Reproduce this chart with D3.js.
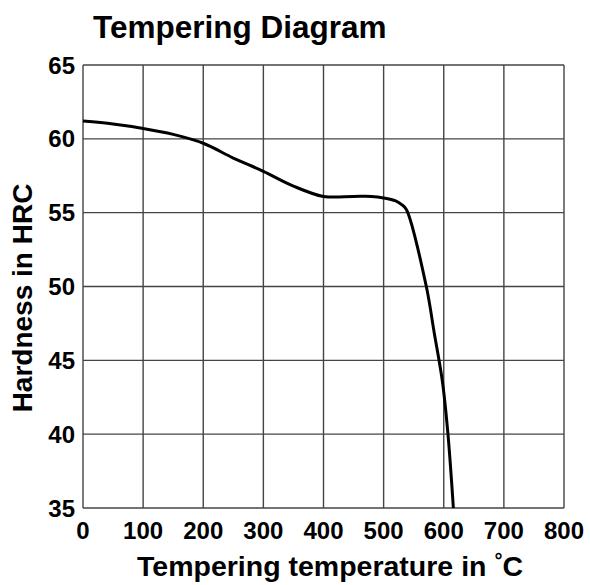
<!DOCTYPE html>
<html>
<head>
<meta charset="utf-8">
<script src="https://cdn.jsdelivr.net/npm/d3@7"></script>
<style>
  body { margin: 0; background: #fff; }
  text { font-family: "Liberation Sans", Arial, sans-serif; font-weight: bold; fill: #000; }
</style>
</head>
<body>
<script>
// tempering curve
const temps = [0, 50, 100, 150, 200, 250, 300, 350, 400, 450, 480, 500, 520, 530, 538, 571, 584, 598, 607, 616];
const hrc   = [61.2, 61.0, 60.7, 60.3, 59.7, 58.7, 57.8, 56.8, 56.1, 56.1, 56.1, 56.0, 55.8, 55.55, 55.2, 50, 46.9, 43.5, 40, 35];
const xTicks = [0, 100, 200, 300, 400, 500, 600, 700, 800];
const yTicks = [35, 40, 45, 50, 55, 60, 65];

const w = 590, h = 585;
const plotL = 83, plotR = 564, plotT = 65, plotB = 508;

const svg = d3.select('body').append('svg')
  .attr('width', w)
  .attr('height', h);

const x = d3.scaleLinear().domain([0, 800]).range([plotL, plotR]);
const y = d3.scaleLinear().domain([35, 65]).range([plotB, plotT]);

// grid
svg.selectAll('line.vg')
  .data(xTicks)
  .enter().append('line')
  .attr('class', 'vg')
  .attr('x1', d => x(d)).attr('x2', d => x(d))
  .attr('y1', plotT).attr('y2', plotB)
  .attr('stroke', '#444').attr('stroke-width', 1.4);

svg.selectAll('line.hg')
  .data(yTicks)
  .enter().append('line')
  .attr('class', 'hg')
  .attr('x1', plotL).attr('x2', plotR)
  .attr('y1', d => y(d)).attr('y2', d => y(d))
  .attr('stroke', '#444').attr('stroke-width', 1.4);

// tick labels
svg.selectAll('text.xt')
  .data(xTicks)
  .enter().append('text')
  .attr('class', 'xt')
  .attr('x', d => x(d))
  .attr('y', 539)
  .attr('text-anchor', 'middle')
  .style('font-size', '24px')
  .text(d => d);

svg.selectAll('text.yt')
  .data(yTicks)
  .enter().append('text')
  .attr('class', 'yt')
  .attr('x', 75)
  .attr('y', d => y(d) + 8.5)
  .attr('text-anchor', 'end')
  .style('font-size', '24px')
  .text(d => d);

// the curve
const pts = temps.map((t, i) => [t, hrc[i]]);
const line = d3.line()
  .x(d => x(d[0]))
  .y(d => y(d[1]))
  .curve(d3.curveCatmullRom.alpha(0.5));

svg.append('path')
  .datum(pts)
  .attr('d', line)
  .attr('fill', 'none')
  .attr('stroke', '#000')
  .attr('stroke-width', 3)
  .attr('stroke-linejoin', 'round');

// titles
svg.append('text')
  .attr('x', 93).attr('y', 38)
  .style('font-size', '31.5px')
  .text('Tempering Diagram');

const xl = svg.append('text')
  .attr('x', 330).attr('y', 576)
  .attr('text-anchor', 'middle')
  .style('font-size', '28.5px');
xl.append('tspan').text('Tempering temperature in ');
xl.append('tspan').attr('dy', -9).style('font-size', '20px').text('°');
xl.append('tspan').attr('dy', 9).text('C');

svg.append('text')
  .attr('transform', 'translate(32,298) rotate(-90)')
  .attr('text-anchor', 'middle')
  .style('font-size', '28px')
  .text('Hardness in HRC');
</script>
</body>
</html>
